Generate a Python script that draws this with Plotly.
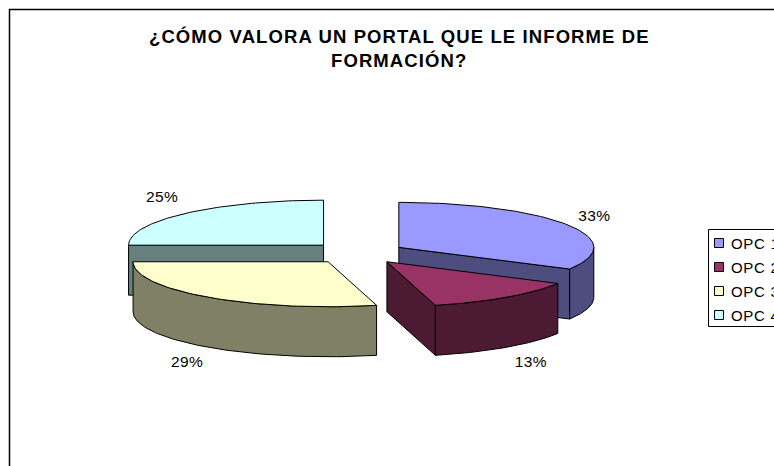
import numpy as np
import plotly.graph_objects as go

categories = ["OPC 1", "OPC 2", "OPC 3", "OPC 4"]
values = [33, 13, 29, 25]
top_colors = ["#9999FF", "#993366", "#FFFFCC", "#CCFFFF"]
side_colors = ["#4D4D80", "#4D1A33", "#808066", "#668080"]
title_lines = ["¿CÓMO VALORA UN PORTAL QUE LE INFORME DE", "FORMACIÓN?"]

W, H = 774, 466
CX, CY = 357.5, 253.0
RX, RY = 195.0, 45.0
DEPTH = 50.0
EXPLODE = 48.0
FONT = "Liberation Sans"
EDGE = "#000000"

frac = np.array(values, dtype=float) / sum(values)
ends = np.cumsum(frac) * 2 * np.pi
starts = ends - frac * 2 * np.pi
mids = (starts + ends) / 2
centers = [(CX + EXPLODE * np.sin(m), CY - EXPLODE * RY / RX * np.cos(m)) for m in mids]


def rim(cx, cy, a0, a1, n=80):
    t = np.linspace(a0, a1, n)
    return cx + RX * np.sin(t), cy - RY * np.cos(t)


def spaced(text, px):
    return f'<span style="letter-spacing:{px}px">{text}</span>'


fig = go.Figure()


def poly(xs, ys, color, name):
    fig.add_trace(go.Scatter(x=list(xs), y=list(ys), mode="lines", fill="toself",
                             fillcolor=color, line=dict(color=EDGE, width=1),
                             name=name, showlegend=False, hoverinfo="name"))


# Which radial cut face of each slice looks towards the viewer
cut_angle = {0: ends[0], 1: ends[1], 3: starts[3]}

# Painter's order: back slices first
for i in [3, 0, 1, 2]:
    cx, cy = centers[i]
    a0, a1 = starts[i], ends[i]
    name = categories[i]
    if i in cut_angle:
        ex, ey = cx + RX * np.sin(cut_angle[i]), cy - RY * np.cos(cut_angle[i])
        poly([cx, ex, ex, cx, cx], [cy, ey, ey + DEPTH, cy + DEPTH, cy], side_colors[i], name)
    # outer curved wall, front half of the ellipse only
    lo, hi = max(a0, np.pi / 2), min(a1, 3 * np.pi / 2)
    if hi > lo:
        x, y = rim(cx, cy, lo, hi)
        poly(np.r_[x, x[::-1], x[0]], np.r_[y, y[::-1] + DEPTH, y[0]], side_colors[i], name)
    # top face
    x, y = rim(cx, cy, a0, a1)
    poly(np.r_[cx, x, cx], np.r_[cy, y, cy], top_colors[i], name)

# Percentage labels, placed radially outside each slice
label_r = [1.165, 1.205, 1.18, 1.171]
label_dy = [-4, 59, 59, -10]
label_x, label_y = [], []
for i, m in enumerate(mids):
    cx, cy = centers[i]
    label_x.append(cx + RX * label_r[i] * np.sin(m))
    label_y.append(cy - RY * label_r[i] * np.cos(m) + label_dy[i])
fig.add_trace(go.Scatter(x=label_x, y=label_y, mode="text",
                         text=[spaced(f"{v}%", 0.4) for v in values],
                         textfont=dict(family=FONT, size=15.5, color="#000000"),
                         showlegend=False, hoverinfo="skip"))

shapes = [
    dict(type="rect", xref="x", yref="y", x0=9.5, y0=9.5, x1=W + 20, y1=H + 20,
         line=dict(color="#000000", width=1.5), layer="below"),
    dict(type="rect", xref="x", yref="y", x0=708.5, y0=229.5, x1=W + 20, y1=326.5,
         line=dict(color="#000000", width=1), layer="below"),
]
annotations = []
for i, c in enumerate(categories):
    ry = 243 + 24 * i
    shapes.append(dict(type="rect", xref="x", yref="y", x0=714.5, x1=723.5, y0=ry - 4.5, y1=ry + 4.5,
                       fillcolor=top_colors[i], line=dict(color="#000000", width=1)))
    annotations.append(dict(xref="x", yref="y", x=728.5, y=ry, text=spaced(c, 0.7), showarrow=False,
                            xanchor="left", yanchor="middle",
                            font=dict(family=FONT, size=15, color="#000000")))
for line, y in zip(title_lines, [36, 60]):
    annotations.append(dict(xref="x", yref="y", x=399, y=y, text=spaced(f"<b>{line}</b>", 1.1),
                            showarrow=False, xanchor="center", yanchor="middle",
                            font=dict(family=FONT, size=18.5, color="#000000")))

fig.update_layout(
    width=W, height=H, margin=dict(l=0, r=0, t=0, b=0),
    paper_bgcolor="white", plot_bgcolor="white",
    xaxis=dict(range=[0, W], visible=False, fixedrange=True),
    yaxis=dict(range=[H, 0], visible=False, fixedrange=True),
    shapes=shapes, annotations=annotations, showlegend=False,
)
fig.write_html("out.html", config={"displayModeBar": False},
               post_script="document.body.style.margin='0';")
